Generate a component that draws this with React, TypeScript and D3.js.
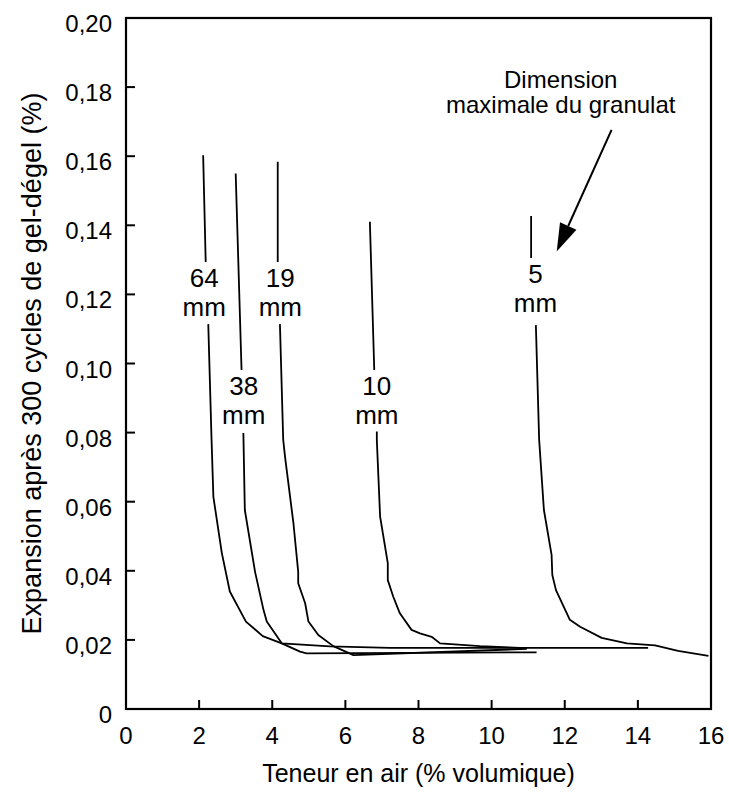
import React from "react";
import * as d3 from "d3";

// chart size
const width = 729;
const height = 793;
const margin = { top: 18, right: 18, bottom: 84, left: 126 };
const font = "'Liberation Sans', Arial, Helvetica, sans-serif";

// axes
const xTicks = [0, 2, 4, 6, 8, 10, 12, 14, 16];
const yTicks = [0, 0.02, 0.04, 0.06, 0.08, 0.1, 0.12, 0.14, 0.16, 0.18, 0.2];
const xTitle = "Teneur en air (% volumique)";
const yTitle = "Expansion après 300 cycles de gel-dégel (%)";

// curves (null = gap left for the label)
const sizes = ["64", "38", "19", "10", "5"];

const air64 = [2.11, 2.18, null, 2.25, 2.34, 2.39, 2.62, 2.84, 3.28, 3.74, 4.26, 5.58, 7.22, 14.28];
const exp64 = [0.1603, 0.1294, null, 0.1114, 0.0779, 0.0614, 0.0452, 0.034, 0.0253, 0.0211, 0.019, 0.0181, 0.0177, 0.0177];

const air38 = [3.0, 3.16, null, 3.21, 3.25, 3.53, 3.76, 3.85, 4.26, 4.76, 4.94, 11.23];
const exp38 = [0.155, 0.0981, null, 0.0799, 0.0576, 0.0397, 0.0287, 0.0253, 0.019, 0.0166, 0.0161, 0.0164];

const air19 = [4.15, 4.15, null, 4.21, 4.3, 4.35, 4.58, 4.71, 4.71, 4.9, 4.99, 5.26, 5.67, 6.22, 10.96];
const exp19 = [0.1584, 0.1294, null, 0.1114, 0.0779, 0.073, 0.0537, 0.0397, 0.0364, 0.0306, 0.0253, 0.0214, 0.0182, 0.0156, 0.0174];

const air10 = [6.67, 6.79, null, 6.86, 6.86, 6.95, 7.16, 7.16, 7.31, 7.49, 7.81, 8.04, 8.36, 8.59, 9.68, 10.96];
const exp10 = [0.141, 0.0981, null, 0.0803, 0.0779, 0.0557, 0.0422, 0.0373, 0.0325, 0.0277, 0.0229, 0.0219, 0.0209, 0.019, 0.0182, 0.0176];

const air5 = [11.08, 11.08, null, 11.21, 11.3, 11.43, 11.64, 11.66, 11.76, 12.14, 12.42, 13.01, 13.7, 14.47, 15.1, 15.93];
const exp5 = [0.1427, 0.1305, null, 0.1111, 0.0779, 0.0576, 0.0446, 0.0388, 0.0344, 0.0258, 0.0238, 0.0206, 0.019, 0.0184, 0.0168, 0.0154];

const airSeries = [air64, air38, air19, air10, air5];
const expSeries = [exp64, exp38, exp19, exp10, exp5];

// curve labels (first line baseline, in data units)
const labelAir = [2.14, 3.22, 4.22, 6.86, 11.2];
const labelExp = [0.1222, 0.0909, 0.1222, 0.0909, 0.1232];

// annotation
const noteLines = ["Dimension", "maximale du granulat"];
const noteAir = 11.89;
const noteExp = 0.1796;
const arrowFrom = [13.28, 0.1676];
const arrowTo = [11.78, 0.1324];

export default function App() {
  const x = d3
    .scaleLinear()
    .domain([0, 16])
    .range([margin.left, width - margin.right]);
  const y = d3
    .scaleLinear()
    .domain([0, 0.2])
    .range([height - margin.bottom, margin.top]);

  const line = d3
    .line<[number | null, number | null]>()
    .defined((d) => d[0] !== null && d[1] !== null)
    .x((d) => x(d[0] as number))
    .y((d) => y(d[1] as number));

  const fmtY = (d: number) => (d === 0 ? "0" : d.toFixed(2).replace(".", ","));

  // arrow head
  const ax0 = x(arrowFrom[0]);
  const ay0 = y(arrowFrom[1]);
  const ax1 = x(arrowTo[0]);
  const ay1 = y(arrowTo[1]);
  const ang = Math.atan2(ay1 - ay0, ax1 - ax0);
  const headLen = 28;
  const headHalf = 9;
  const bx = ax1 - headLen * Math.cos(ang);
  const by = ay1 - headLen * Math.sin(ang);
  const head = [
    [ax1, ay1],
    [bx + headHalf * Math.sin(ang), by - headHalf * Math.cos(ang)],
    [bx - headHalf * Math.sin(ang), by + headHalf * Math.cos(ang)],
  ]
    .map((p) => p.join(","))
    .join(" ");

  const [x0, x1] = x.range();
  const [y0, y1] = y.range();

  return (
    <svg
      width={width}
      height={height}
      style={{ position: "absolute", left: 0, top: 0, background: "#fff" }}
      fontFamily={font}
    >
      {/* curves */}
      {airSeries.map((xs, i) => (
        <path
          key={sizes[i]}
          d={line(xs.map((v, j) => [v, expSeries[i][j]])) || ""}
          fill="none"
          stroke="#000"
          strokeWidth={1.8}
          strokeLinejoin="round"
        />
      ))}

      {/* frame */}
      <rect x={x0} y={y1} width={x1 - x0} height={y0 - y1} fill="none" stroke="#000" strokeWidth={2.2} />

      {/* x ticks */}
      {xTicks.map((t) => (
        <g key={"x" + t}>
          <line x1={x(t)} x2={x(t)} y1={y0} y2={y0 - 9} stroke="#000" strokeWidth={2} />
          <text x={x(t)} y={744} fontSize={24} textAnchor="middle">
            {t}
          </text>
        </g>
      ))}

      {/* y ticks */}
      {yTicks.map((t) => (
        <g key={"y" + t}>
          <line x1={x0} x2={x0 + 9} y1={y(t)} y2={y(t)} stroke="#000" strokeWidth={2} />
          <text x={112} y={y(t) + 14} fontSize={24} textAnchor="end">
            {fmtY(t)}
          </text>
        </g>
      ))}

      {/* axis titles */}
      <text x={(x0 + x1) / 2} y={782} fontSize={25} textAnchor="middle">
        {xTitle}
      </text>
      <text
        transform={`translate(41, ${(y0 + y1) / 2}) rotate(-90)`}
        fontSize={27}
        textAnchor="middle"
      >
        {yTitle}
      </text>

      {/* curve labels */}
      {sizes.map((s, i) => (
        <text key={"l" + s} x={x(labelAir[i])} y={y(labelExp[i])} fontSize={26} textAnchor="middle">
          <tspan x={x(labelAir[i])}>{s}</tspan>
          <tspan x={x(labelAir[i])} dy={29}>
            mm
          </tspan>
        </text>
      ))}

      {/* annotation */}
      <text x={x(noteAir)} y={y(noteExp)} fontSize={24} textAnchor="middle">
        {noteLines.map((l, i) => (
          <tspan key={l} x={x(noteAir)} dy={i === 0 ? 0 : 25}>
            {l}
          </tspan>
        ))}
      </text>
      <line x1={ax0} y1={ay0} x2={bx} y2={by} stroke="#000" strokeWidth={2} />
      <polygon points={head} fill="#000" />
    </svg>
  );
}
